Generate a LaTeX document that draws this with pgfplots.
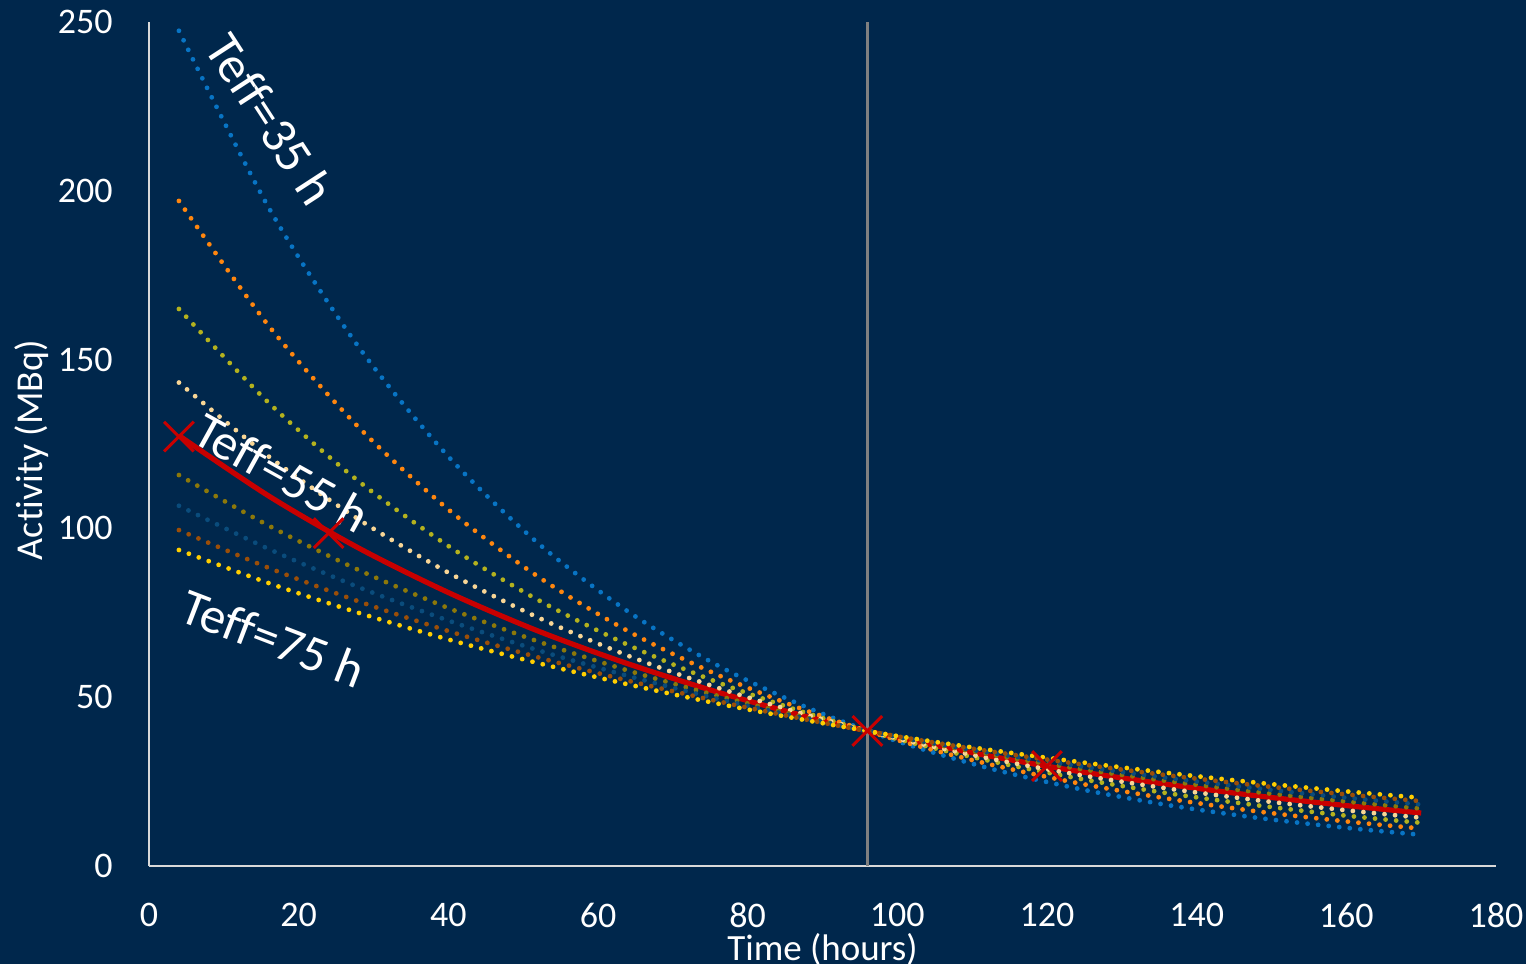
\documentclass[border=0pt]{standalone}
\usepackage{fontspec}
\setmainfont[Ligatures=NoCommon]{Carlito}
\usepackage{pgfplots}
\pgfplotsset{compat=1.18}
\definecolor{bgc}{RGB}{0,39,76}
\definecolor{axc}{RGB}{217,217,217}
\definecolor{cA}{RGB}{8,116,196}
\definecolor{cB}{RGB}{255,134,14}
\definecolor{cC}{RGB}{180,178,30}
\definecolor{cD}{RGB}{248,214,150}
\definecolor{cF}{RGB}{140,120,10}
\definecolor{cG}{RGB}{10,76,124}
\definecolor{cH}{RGB}{155,78,8}
\definecolor{cI}{RGB}{255,206,0}
\definecolor{redc}{RGB}{200,0,0}
\definecolor{vgray}{RGB}{128,128,128}
\begin{document}
\begin{tikzpicture}
\path[use as bounding box, fill=bgc] (-74.5pt,-49pt) rectangle (688.5pt,433pt);
\begin{axis}[
  at={(0,0)}, anchor=south west,
  scale only axis, width=673.5pt, height=422pt,
  xmin=0, xmax=180, ymin=0, ymax=250,
  xtick={0,20,...,180}, ytick={0,50,...,250},
  major tick length=0pt,
  axis x line=bottom, axis y line=left,
  axis line style={-, draw=axc, line width=1pt},
  clip=false,
  /pgf/number format/assume math mode=true,
  ticklabel style={font=\fontsize{18}{21}\selectfont, text=white, inner sep=0pt},
  xticklabel style={anchor=north, yshift=-18.5pt},
  yticklabel style={anchor=east, xshift=-18pt},
  every axis x label/.style={at={(axis description cs:0.5,-0.1125)}, anchor=base},
  every axis y label/.style={at={(axis description cs:-0.0794,0.4929)}, rotate=90, anchor=base},
  label style={text=white},
  xlabel={\fontsize{18.5}{21}\selectfont Time (hours)},
  ylabel={\fontsize{19}{22}\selectfont Activity (MBq)},
  dots/.style={smooth, line width=2.4pt, line cap=round, dash pattern=on 0pt off 5.3pt},
]
% fitted curve (Teff=55 h)
\addplot[smooth, redc, line width=2.6pt] coordinates {
(4,127.5)(16,109.6)(28,94.2)(40,81.0)(52,69.6)(64,59.9)(76,51.5)(88,44.2)(100,38.0)(112,32.7)(124,28.1)(136,24.2)(148,20.8)(160,17.9)(170,15.7)};
% Teff=35
\addplot[dots, cA] coordinates {
(4,247.4)(16,195.0)(28,153.8)(40,121.3)(52,95.6)(64,75.4)(76,59.4)(88,46.9)(100,36.96)(112,29.1)(124,22.97)(136,18.1)(148,14.3)(160,11.3)(170,9.24)};
% Teff=40
\addplot[dots, cB] coordinates {
(4,197.0)(16,160.0)(28,130.0)(40,105.6)(52,85.7)(64,69.6)(76,56.6)(88,45.9)(100,37.3)(112,30.3)(124,24.6)(136,20.0)(148,16.2)(160,13.2)(170,11.1)};
% Teff=45
\addplot[dots, cC] coordinates {
(4,165.0)(16,137.2)(28,114.0)(40,94.8)(52,78.8)(64,65.5)(76,54.4)(88,45.2)(100,37.6)(112,31.3)(124,26.0)(136,21.6)(148,18.0)(160,14.9)(170,12.8)};
% Teff=50
\addplot[dots, cD] coordinates {
(4,143.2)(16,121.3)(28,102.7)(40,86.9)(52,73.6)(64,62.3)(76,52.8)(88,44.7)(100,37.8)(112,32.0)(124,27.1)(136,23.0)(148,19.5)(160,16.5)(170,14.3)};
% Teff=60
\addplot[dots, cF] coordinates {
(4,115.8)(16,100.8)(28,87.7)(40,76.4)(52,66.5)(64,57.9)(76,50.4)(88,43.9)(100,38.2)(112,33.2)(124,28.9)(136,25.2)(148,21.9)(160,19.1)(170,17.0)};
% Teff=65
\addplot[dots, cG] coordinates {
(4,106.7)(16,93.9)(28,82.6)(40,72.7)(52,63.9)(64,56.3)(76,49.5)(88,43.6)(100,38.3)(112,33.7)(124,29.7)(136,26.1)(148,23.0)(160,20.2)(170,18.2)};
% Teff=70
\addplot[dots, cH] coordinates {
(4,99.5)(16,88.3)(28,78.4)(40,69.6)(52,61.8)(64,54.9)(76,48.8)(88,43.3)(100,38.4)(112,34.1)(124,30.3)(136,26.9)(148,23.9)(160,21.2)(170,19.2)};
% Teff=75
\addplot[dots, cI] coordinates {
(4,93.6)(16,83.8)(28,75.0)(40,67.1)(52,60.1)(64,53.8)(76,48.1)(88,43.1)(100,38.5)(112,34.5)(124,30.9)(136,27.6)(148,24.7)(160,22.1)(170,20.2)};
% vertical line at 96 h
\addplot[vgray, line width=1.5pt] coordinates {(96,0)(96,250)};
% measured points
\addplot[only marks, mark=x, mark size=10.5pt, redc, mark options={line width=1.5pt}] coordinates {
(4,127.2)(24,98.6)(96,40.0)(120,29.6)};
\node[rotate=-57, text=white, font=\fontsize{25.5}{30}\selectfont] at (axis cs:16.2,221.3) {Teff=35 h};
\node[rotate=-29, text=white, font=\fontsize{25.5}{30}\selectfont] at (axis cs:17.8,116.5) {Teff=55 h};
\node[rotate=-21, text=white, font=\fontsize{25.5}{30}\selectfont] at (axis cs:16.6,67.5) {Teff=75 h};
\end{axis}
\end{tikzpicture}
\end{document}
